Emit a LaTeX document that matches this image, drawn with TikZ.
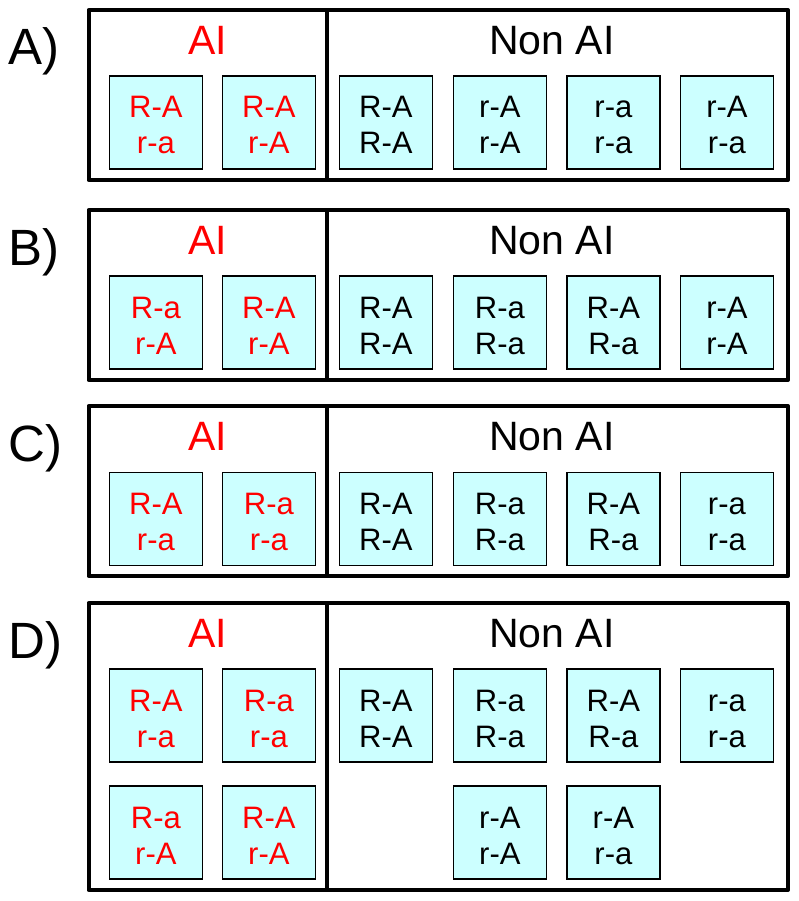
\documentclass[tikz,border=0pt]{standalone}
\usepackage{fontspec}
\setmainfont{Liberation Sans}
\usetikzlibrary{calc}
\definecolor{boxfill}{HTML}{CCFFFF}
\definecolor{aired}{HTML}{FF0000}
\tikzset{
  frame/.style={draw=black, line width=4pt, line join=round},
  gbox/.style={draw=black, line width=1.8pt, fill=boxfill, minimum width=93pt, minimum height=93pt, inner sep=0pt, anchor=north west},
  gtext/.style={text=#1, font=\fontsize{31}{36}\selectfont, anchor=base, inner sep=0pt},
  head/.style={text=#1, font=\fontsize{41}{48}\selectfont, anchor=base, inner sep=0pt},
  plabel/.style={font=\fontsize{51}{60}\selectfont, anchor=base west, inner sep=0pt},
}
\newcommand\gbox[6]{%
  \node[gbox] (#1) at (#2,#3) {};
  \node[gtext=#6] (#1a) at ($(#1.north)+(0,43)$) {#4};
  \node[gtext=#6] (#1b) at ($(#1.north)+(0,79)$) {#5};
}
\newcommand\panelframe[3]{%
  \draw[frame] (88.5,#2) rectangle (788,#3);
  \draw[frame] (327,#2) -- (327,#3);
  \node[plabel] (lab#1) at (8,#2+55) {#1)};
  \node[head=aired] (ai#1) at (208,#2+44.5) {AI};
  \node[head=black] (non#1) at (552,#2+44.5) {Non AI};
}
\begin{document}
\begin{tikzpicture}[x=1pt,y=-1pt]
\useasboundingbox (0,0) rectangle (799,901);
% Panel A
\panelframe{A}{10}{180}
\gbox{a1}{108.5}{75}{R-A}{r-a}{aired}
\gbox{a2}{221.5}{75}{R-A}{r-A}{aired}
\gbox{a3}{338.5}{75}{R-A}{R-A}{black}
\gbox{a4}{452.5}{75}{r-A}{r-A}{black}
\gbox{a5}{566}{75}{r-a}{r-a}{black}
\gbox{a6}{679.5}{75}{r-A}{r-a}{black}
% Panel B
\panelframe{B}{210}{380}
\gbox{b1}{108.5}{275}{R-a}{r-A}{aired}
\gbox{b2}{221.5}{275}{R-A}{r-A}{aired}
\gbox{b3}{338.5}{275}{R-A}{R-A}{black}
\gbox{b4}{452.5}{275}{R-a}{R-a}{black}
\gbox{b5}{566}{275}{R-A}{R-a}{black}
\gbox{b6}{679.5}{275}{r-A}{r-A}{black}
% Panel C
\panelframe{C}{406}{576}
\gbox{c1}{108.5}{471.5}{R-A}{r-a}{aired}
\gbox{c2}{221.5}{471.5}{R-a}{r-a}{aired}
\gbox{c3}{338.5}{471.5}{R-A}{R-A}{black}
\gbox{c4}{452.5}{471.5}{R-a}{R-a}{black}
\gbox{c5}{566}{471.5}{R-A}{R-a}{black}
\gbox{c6}{679.5}{471.5}{r-a}{r-a}{black}
% Panel D
\panelframe{D}{603}{890}
\gbox{d1}{108.5}{668}{R-A}{r-a}{aired}
\gbox{d2}{221.5}{668}{R-a}{r-a}{aired}
\gbox{d3}{338.5}{668}{R-A}{R-A}{black}
\gbox{d4}{452.5}{668}{R-a}{R-a}{black}
\gbox{d5}{566}{668}{R-A}{R-a}{black}
\gbox{d6}{679.5}{668}{r-a}{r-a}{black}
\gbox{d7}{108.5}{785}{R-a}{r-A}{aired}
\gbox{d8}{221.5}{785}{R-A}{r-A}{aired}
\gbox{d9}{452.5}{785}{r-A}{r-A}{black}
\gbox{d10}{566}{785}{r-A}{r-a}{black}
\end{tikzpicture}
\end{document}
